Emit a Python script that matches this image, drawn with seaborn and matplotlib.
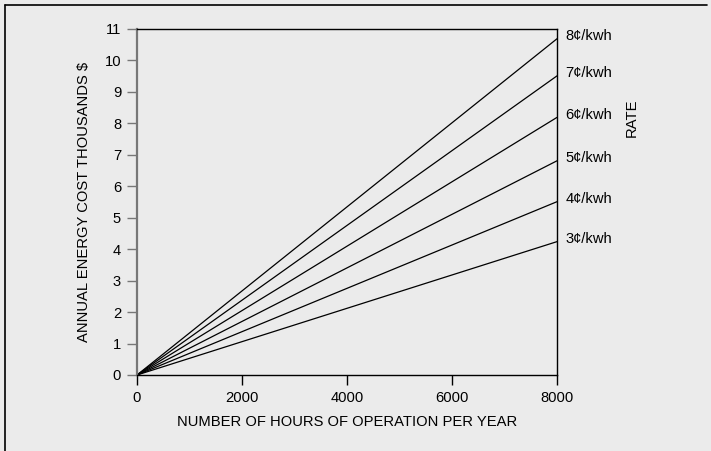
import matplotlib
matplotlib.use('Agg')
import matplotlib.pyplot as plt
from matplotlib.lines import Line2D
import pandas as pd
import seaborn as sns

# rates in cents per kwh and annual cost (thousands $) at 8000 hours
rates = [3, 4, 5, 6, 7, 8]
hours = [0, 8000]
cost_at_8000 = [4.24, 5.51, 6.81, 8.19, 9.51, 10.69]
rate_labels = ['3¢/kwh', '4¢/kwh', '5¢/kwh', '6¢/kwh', '7¢/kwh', '8¢/kwh']
x_ticks = [0, 2000, 4000, 6000, 8000]
y_ticks = list(range(0, 12))

bg = '#ebebeb'
sns.set_style('white', {'axes.facecolor': bg, 'figure.facecolor': bg,
                        'text.color': 'black', 'axes.labelcolor': 'black',
                        'xtick.color': 'black', 'ytick.color': 'black'})
plt.rcParams['font.family'] = ['Liberation Sans', 'DejaVu Sans']
fs = 10.6

rows = []
for r, c in zip(rates, cost_at_8000):
    rows.append({'rate': r, 'hours': hours[0], 'cost': 0.0})
    rows.append({'rate': r, 'hours': hours[1], 'cost': c})
df = pd.DataFrame(rows)

fig = plt.figure(figsize=(7.11, 4.51), dpi=100)
ax = fig.add_axes([137 / 711, 1 - 375 / 451, 420 / 711, 346 / 451])

sns.lineplot(data=df, x='hours', y='cost', units='rate', estimator=None,
             color='black', linewidth=0.9, ax=ax, legend=False)

ax.set_xlim(0, 8000)
ax.set_ylim(0, 11)
ax.set_xticks(x_ticks)
ax.set_yticks(y_ticks)
ax.set_xlabel('NUMBER OF HOURS OF OPERATION PER YEAR', fontsize=fs, labelpad=7)
ax.set_ylabel('ANNUAL ENERGY COST THOUSANDS $', fontsize=fs, labelpad=10)

for side in ['top', 'right', 'bottom']:
    ax.spines[side].set_color('black')
    ax.spines[side].set_linewidth(1.0)
ax.spines['left'].set_color('#777777')
ax.spines['left'].set_linewidth(1.6)

ax.tick_params(axis='x', direction='out', length=7.5, width=1.0, color='black',
               labelsize=fs, labelcolor='black', pad=4)
ax.tick_params(axis='y', direction='out', length=7.5, width=1.0, color='#777777',
               labelsize=fs, labelcolor='black', pad=4)
ax.tick_params(left=True, bottom=True)

for lab, c in zip(rate_labels, cost_at_8000):
    ax.annotate(lab, xy=(8000, c), xytext=(6, 2), textcoords='offset points',
                va='center', ha='left', fontsize=fs, color='black',
                annotation_clip=False)

ax.text(1.179, 0.743, 'RATE', transform=ax.transAxes, rotation=90,
        va='center', ha='center', fontsize=fs, color='black')

# frame lines on the top and left of the figure
fig.add_artist(Line2D([4.5 / 711, 707 / 711], [1 - 5 / 451, 1 - 5 / 451],
                      transform=fig.transFigure, color='black', linewidth=1.2))
fig.add_artist(Line2D([4.5 / 711, 4.5 / 711], [0, 1 - 5 / 451],
                      transform=fig.transFigure, color='black', linewidth=1.2))

fig.savefig('out.png', dpi=100, facecolor=bg)
